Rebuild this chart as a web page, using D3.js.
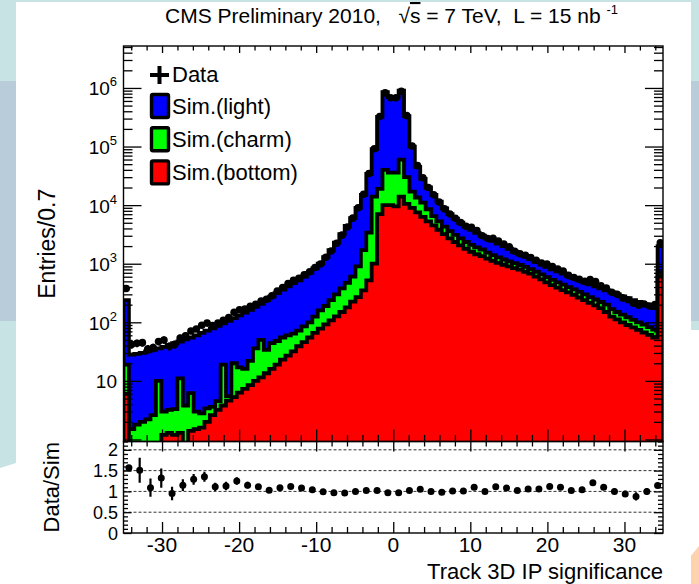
<!DOCTYPE html>
<html>
<head>
<meta charset="utf-8">
<script src="https://cdn.jsdelivr.net/npm/d3@7"></script>
<style>
  body { margin: 0; background: #fff; }
  svg { display: block; }
  text { font-family: "Liberation Sans", Arial, Helvetica, sans-serif; fill: #000; white-space: pre; }
</style>
</head>
<body>
<svg id="chart" width="699" height="584"></svg>
<script>
// ---- histogram binning: 100 bins of 0.7 from -35 to 35 ----
const binLow = -35;
const binWidth = 0.7;

// simulated track 3D IP significance, per flavour (entries per bin)
const simBottom = [
  6, 0, 0, 0, 0, 0, 0, 1.2, 1.3, 1.2,
  1.3, 0.8, 1.4, 1.5, 1.6, 2.0, 2.6, 3.2, 3.8, 4.6,
  5.3, 6.3, 7.3, 8.5, 10, 11.5, 13.5, 16, 19, 23,
  27, 32, 39, 46, 55, 66, 78, 92, 108, 126,
  150, 180, 225, 270, 350, 520, 1000, 7000, 10000, 10000,
  9500, 14000, 10500, 9000, 7500, 6300, 5300, 4500, 3800, 3200,
  2700, 2350, 2050, 1800, 1600, 1450, 1350, 1220, 1120, 1030,
  960, 900, 840, 790, 730, 680, 600, 540, 480, 430,
  390, 355, 325, 295, 265, 240, 215, 195, 175, 150,
  125, 112, 100, 90, 82, 74, 67, 61, 55, 600
];
const simCharm = [
  13, 1.5, 1.8, 2.0, 2.2, 2.6, 10, 1.8, 1.9, 2.1,
  9.7, 3.0, 4.8, 1.5, 1.2, 1.4, 1.0, 1.3, 15.2, 0.9,
  14.7, 10.7, 8.7, 13.5, 26, 38.5, 20.5, 28, 29, 32,
  33, 32, 33, 39, 45, 59, 82, 98, 132, 174,
  230, 290, 375, 630, 1350, 2880, 13000, 12000, 30000, 26000,
  26500, 46000, 19500, 8000, 6000, 4700, 3200, 2000, 1500, 1100,
  900, 750, 650, 550, 500, 450, 400, 330, 280, 250,
  220, 200, 180, 160, 150, 130, 130, 120, 110, 100,
  90, 85, 75, 70, 65, 60, 55, 50, 47, 50,
  43, 38, 35, 32, 28, 26, 24, 22, 20, 100
];
const simLight = [
  221, 26.5, 27.2, 28, 29.8, 31.4, 26, 35, 37.8, 40.7,
  36, 47.2, 48.8, 57, 63.2, 68.6, 75.4, 82.5, 77, 100.5,
  98, 114, 130, 141, 147, 157, 206, 231, 267, 305,
  350, 401, 448, 515, 600, 705, 840, 1110, 1460, 2000,
  2820, 3930, 5400, 8100, 13300, 30600, 76000, 301000, 810000, 664000,
  664000, 840000, 300000, 83000, 31500, 17000, 11500, 8500, 6200, 4500,
  3400, 2800, 2300, 1950, 1700, 1450, 1250, 1150, 1050, 920,
  820, 700, 580, 500, 440, 390, 350, 310, 290, 270,
  260, 240, 220, 205, 190, 180, 175, 165, 158, 150,
  157, 150, 143, 136, 130, 122, 114, 107, 100, 1300
];
// observed entries per bin
const dataCounts = [
  377, 42, 44, 45, 35, 37, 47, 50, 39, 42,
  54, 59, 71, 77, 89, 97, 88, 97, 108, 120,
  148, 164, 168, 187, 203, 230, 247, 283, 343, 392,
  459, 521, 562, 648, 728, 863, 990, 1287, 1649, 2231,
  3072, 4224, 6000, 9000, 15300, 34680, 91800, 326400, 824500, 679000,
  679000, 873000, 336600, 102000, 47250, 29400, 20000, 15000, 11270, 8624,
  7070, 5959, 5050, 4343, 4180, 3685, 3000, 2700, 2720, 2442,
  2160, 1944, 1632, 1479, 1399, 1272, 1145, 1028, 986, 896,
  814, 748, 632, 581, 541, 499, 538, 496, 418, 385,
  325, 300, 261, 243, 211, 195, 205, 190, 200, 2280
];
// Data/Sim in 50 bins of 1.4
const ratioValues = [
  1.57, 1.51, 1.09, 1.32, 0.95, 1.15, 1.29, 1.35, 1.11, 1.13,
  1.25, 1.15, 1.11, 1.03, 1.09, 1.12, 1.08, 1.04, 0.99, 0.97,
  0.96, 1.00, 1.02, 1.02, 0.97, 0.97, 1.02, 1.05, 1.00, 0.98,
  1.01, 1.01, 1.10, 1.00, 1.11, 1.08, 1.02, 1.06, 1.06, 1.12,
  1.10, 1.02, 1.04, 1.21, 1.10, 1.00, 0.94, 0.88, 1.00, 1.14
];
const ratioErrors = [
  0.06, 0.30, 0.22, 0.23, 0.16, 0.14, 0.13, 0.12, 0.10, 0.10,
  0.09, 0.08, 0.07, 0.06, 0.05, 0.045, 0.04, 0.035, 0.03, 0.025,
  0.02, 0.015, 0.01, 0.005, 0.002, 0.002, 0.005, 0.01, 0.015, 0.02,
  0.02, 0.025, 0.025, 0.03, 0.03, 0.035, 0.035, 0.04, 0.04, 0.045,
  0.05, 0.05, 0.055, 0.06, 0.065, 0.07, 0.075, 0.10, 0.08, 0.03
];
const ratioBinWidth = 1.4;

const xTickLabels = [-30, -20, -10, 0, 10, 20, 30];
const yDecades = [1, 2, 3, 4, 5, 6];
const ratioTickLabels = [0, 0.5, 1, 1.5, 2];
const ratioGrid = [0.5, 1, 1.5, 2];

const legendEntries = [
  { label: "Sim.(light)", color: "#0000ff" },
  { label: "Sim.(charm)", color: "#00ff00" },
  { label: "Sim.(bottom)", color: "#ff0000" }
];

// ---- geometry ----
const W = 699, H = 584;
const fx0 = 123.5, fx1 = 663;
const mainTop = 46, mainBot = 441.5, ratioBot = 533;

const svg = d3.select("#chart");

// slide backdrop
svg.append("rect").attr("width", W).attr("height", H).attr("fill", "#c8e3e3");
svg.append("rect").attr("x", 0).attr("y", 81).attr("width", W).attr("height", 240).attr("fill", "#b9ccd9");
svg.append("path").attr("d", "M0,468 L16,463 L16,584 L0,584 Z").attr("fill", "#fff");
svg.append("rect").attr("x", 691).attr("y", 330).attr("width", 8).attr("height", 254).attr("fill", "#fff");
svg.append("path").attr("d", "M699,546 L690,557 L690,584 L699,584 Z").attr("fill", "#fcd3ad");
svg.append("rect").attr("x", 16).attr("y", 2).attr("width", 675).attr("height", H - 2).attr("fill", "#fff");

// ---- scales ----
const x = d3.scaleLinear().domain([binLow, binLow + 100 * binWidth]).range([fx0, fx1]);
const yMin = 0.924, yMax = 5.2e6;
const y = d3.scaleLog().domain([yMin, yMax]).range([mainBot, mainTop]);
const yr = d3.scaleLinear().domain([0, 2.2]).range([ratioBot, mainBot]);

svg.append("clipPath").attr("id", "mainClip")
  .append("rect").attr("x", fx0).attr("y", mainTop).attr("width", fx1 - fx0).attr("height", mainBot - mainTop);
svg.append("clipPath").attr("id", "ratioClip")
  .append("rect").attr("x", fx0).attr("y", mainBot).attr("width", fx1 - fx0).attr("height", ratioBot - mainBot);

// ---- stacked simulation ----
const rows = simBottom.map((b, i) => ({ bottom: b, charm: simCharm[i], light: simLight[i] }));
const layers = d3.stack().keys(["bottom", "charm", "light"])(rows);
const layerColor = { bottom: "#ff0000", charm: "#00ff00", light: "#0000ff" };

function stepPath(tops) {
  const yb = mainBot + 10;
  let p = `M${x(binLow)},${yb}`;
  tops.forEach((v, i) => {
    const yy = y(Math.max(v, 0.3));
    p += `L${x(binLow + i * binWidth)},${yy}L${x(binLow + (i + 1) * binWidth)},${yy}`;
  });
  p += `L${x(binLow + 100 * binWidth)},${yb}Z`;
  return p;
}

const main = svg.append("g").attr("clip-path", "url(#mainClip)");
layers.slice().reverse().forEach(layer => {
  main.append("path")
    .attr("d", stepPath(layer.map(d => d[1])))
    .attr("fill", layerColor[layer.key])
    .attr("stroke", "#000")
    .attr("stroke-width", 3.8)
    .attr("stroke-linejoin", "miter");
});

// data points with Poisson errors and bin-width bars
const dataG = main.append("g");
dataCounts.forEach((n, i) => {
  const xa = x(binLow + i * binWidth), xb = x(binLow + (i + 1) * binWidth);
  const cx = (xa + xb) / 2;
  const e = Math.sqrt(n);
  dataG.append("line")
    .attr("x1", cx).attr("x2", cx)
    .attr("y1", y(n + e)).attr("y2", y(Math.max(n - e, 0.3)))
    .attr("stroke", "#000").attr("stroke-width", 2.2);
  dataG.append("line")
    .attr("x1", xa).attr("x2", xb)
    .attr("y1", y(n)).attr("y2", y(n))
    .attr("stroke", "#000").attr("stroke-width", 2.2);
  dataG.append("circle").attr("cx", cx).attr("cy", y(n)).attr("r", 3.8).attr("fill", "#000");
});

// ---- ratio panel ----
const ratio = svg.append("g");
ratio.selectAll("line.grid").data(ratioGrid).join("line")
  .attr("x1", fx0).attr("x2", fx1)
  .attr("y1", d => yr(d)).attr("y2", d => yr(d))
  .attr("stroke", "#333").attr("stroke-width", 1).attr("stroke-dasharray", "3,2");
const ratioPts = ratio.append("g").attr("clip-path", "url(#ratioClip)");
ratioValues.forEach((r, k) => {
  const cx = x(binLow + (k + 0.5) * ratioBinWidth);
  ratioPts.append("line")
    .attr("x1", cx).attr("x2", cx)
    .attr("y1", yr(r + ratioErrors[k])).attr("y2", yr(r - ratioErrors[k]))
    .attr("stroke", "#000").attr("stroke-width", 2.2);
  ratioPts.append("circle").attr("cx", cx).attr("cy", yr(r)).attr("r", 3.5).attr("fill", "#000");
});

// ---- frames ----
svg.append("rect").attr("x", fx0).attr("y", mainTop).attr("width", fx1 - fx0).attr("height", mainBot - mainTop)
  .attr("fill", "none").attr("stroke", "#000").attr("stroke-width", 1.4);
svg.append("rect").attr("x", fx0).attr("y", mainBot).attr("width", fx1 - fx0).attr("height", ratioBot - mainBot)
  .attr("fill", "none").attr("stroke", "#000").attr("stroke-width", 1.4);

// ---- ticks ----
function ticks(gen, scale, values, size, tx, ty) {
  const g = svg.append("g").attr("transform", `translate(${tx},${ty})`)
    .call(gen(scale).tickValues(values).tickSize(size).tickFormat(""));
  g.select(".domain").remove();
  g.selectAll("line").attr("stroke", "#000").attr("stroke-width", 1.3);
  return g;
}
const xMinor = d3.range(-34, 35, 2).filter(v => v % 10 !== 0);
// main panel x ticks (bottom and top)
ticks(d3.axisBottom, x, xTickLabels, -12, 0, mainBot);
ticks(d3.axisBottom, x, xMinor, -6.5, 0, mainBot);
ticks(d3.axisTop, x, xTickLabels, -7, 0, mainTop);
ticks(d3.axisTop, x, xMinor, -4.5, 0, mainTop);
// ratio panel x ticks
ticks(d3.axisBottom, x, xTickLabels, -11, 0, ratioBot);
ticks(d3.axisBottom, x, xMinor, -6, 0, ratioBot);
ticks(d3.axisTop, x, xTickLabels, -10, 0, mainBot);
ticks(d3.axisTop, x, xMinor, -5, 0, mainBot);

// log y ticks
const yMajor = [1].concat(yDecades.map(p => Math.pow(10, p)));
const yMinorVals = [];
[0.1, 1, 10, 100, 1e3, 1e4, 1e5, 1e6].forEach(d => {
  for (let k = 2; k <= 9; k++) {
    const v = d * k;
    if (v > yMin && v < yMax) yMinorVals.push(v);
  }
});
ticks(d3.axisLeft, y, yMajor, -18, fx0, 0);
ticks(d3.axisLeft, y, yMinorVals, -9, fx0, 0);
ticks(d3.axisRight, y, yMajor, -18, fx1, 0);
ticks(d3.axisRight, y, yMinorVals, -9, fx1, 0);

// ratio y ticks
const rMinor = d3.range(0, 2.21, 0.1).map(v => +v.toFixed(1)).filter(v => Math.abs(v * 2 - Math.round(v * 2)) > 1e-6);
ticks(d3.axisLeft, yr, ratioTickLabels, -8, fx0, 0);
ticks(d3.axisLeft, yr, rMinor, -4.5, fx0, 0);
ticks(d3.axisRight, yr, ratioTickLabels, -9, fx1, 0);
ticks(d3.axisRight, yr, rMinor, -5, fx1, 0);

// ---- tick labels ----
svg.selectAll("text.xl").data(xTickLabels).join("text")
  .attr("x", d => x(d)).attr("y", 551.5)
  .attr("text-anchor", "middle").attr("font-size", 21)
  .text(d => String(d));

svg.selectAll("text.rl").data(ratioTickLabels).join("text")
  .attr("x", 118).attr("y", d => yr(d) + 6.5)
  .attr("text-anchor", "end").attr("font-size", 18)
  .text(d => String(d));

yDecades.forEach(p => {
  const t = svg.append("text").attr("x", 117).attr("y", y(Math.pow(10, p)) + 7.5)
    .attr("text-anchor", "end").attr("font-size", 19);
  if (p === 1) {
    t.text("10");
  } else {
    t.append("tspan").text("10");
    t.append("tspan").attr("dy", -9).attr("font-size", 13).text(String(p));
  }
});

// ---- axis titles ----
svg.append("text").attr("transform", `translate(55,${(mainTop + mainBot) / 2}) rotate(-90)`)
  .attr("text-anchor", "middle").attr("font-size", 23).text("Entries/0.7");
svg.append("text").attr("transform", `translate(59,${(mainBot + ratioBot) / 2}) rotate(-90)`)
  .attr("text-anchor", "middle").attr("font-size", 22).text("Data/Sim");
svg.append("text").attr("x", fx1).attr("y", 578.5)
  .attr("text-anchor", "end").attr("font-size", 22).text("Track 3D IP significance");

// ---- header ----
const title = svg.append("text").attr("x", 165).attr("y", 23).attr("font-size", 21);
title.append("tspan").text("CMS Preliminary 2010,   √");
title.append("tspan").attr("text-decoration", "overline").text("s");
title.append("tspan").text(" = 7 TeV,  L = 15 nb ");
title.append("tspan").attr("dy", -9).attr("font-size", 13).text("-1");

// ---- legend ----
const leg = svg.append("g");
leg.append("line").attr("x1", 150).attr("x2", 169).attr("y1", 75).attr("y2", 75).attr("stroke", "#000").attr("stroke-width", 4);
leg.append("line").attr("x1", 159.5).attr("x2", 159.5).attr("y1", 66).attr("y2", 84).attr("stroke", "#000").attr("stroke-width", 4);
leg.append("text").attr("x", 172).attr("y", 82).attr("font-size", 22).text("Data");
legendEntries.forEach((e, i) => {
  const cy = 106 + i * 33.2;
  leg.append("rect").attr("x", 151.5).attr("y", cy - 11.5).attr("width", 17).attr("height", 23)
    .attr("rx", 1.5).attr("fill", e.color).attr("stroke", "#000").attr("stroke-width", 3.4);
  leg.append("text").attr("x", 172).attr("y", cy + 8).attr("font-size", 22).text(e.label);
});
</script>
</body>
</html>
